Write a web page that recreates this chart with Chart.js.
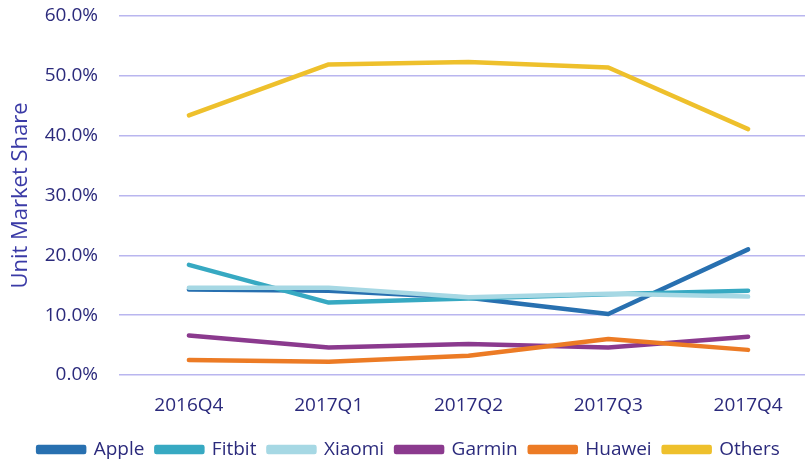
<!DOCTYPE html>
<html>
<head>
<meta charset="utf-8">
<script src="https://cdn.jsdelivr.net/npm/chart.js@4"></script>
<style>
  html, body { margin: 0; padding: 0; background: #fff; overflow: hidden; }
  #wrap { position: absolute; left: 0; top: 0; width: 818px; height: 469px; }
</style>
</head>
<body>
<div id="wrap"><canvas id="shareChart"></canvas></div>
<script>
const quarters = ['2016Q4', '2017Q1', '2017Q2', '2017Q3', '2017Q4'];

const apple  = [14.3, 14.1, 12.9, 10.2, 21.0];
const fitbit = [18.4, 12.1, 12.8, 13.5, 14.1];
const xiaomi = [14.6, 14.6, 13.0, 13.6, 13.1];
const garmin = [6.6, 4.6, 5.2, 4.6, 6.4];
const huawei = [2.5, 2.2, 3.2, 6.0, 4.2];
const others = [43.4, 51.9, 52.3, 51.4, 41.1];

const yTicks = [0, 10, 20, 30, 40, 50, 60];

const textColor = '#2b2a7c';
const gridColor = '#b9b6ef';

// later series are painted on top, like in the original
function line(label, data, color, order) {
  return {
    label: label,
    data: data,
    order: order,
    borderColor: color,
    backgroundColor: color,
    borderWidth: 4.5,
    borderCapStyle: 'round',
    borderJoinStyle: 'round',
    pointRadius: 0,
    tension: 0,
    fill: false
  };
}

const ctx = document.getElementById('shareChart').getContext('2d');
new Chart(ctx, {
  type: 'line',
  data: {
    labels: quarters,
    datasets: [
      line('Apple', apple, '#2870b0', 6),
      line('Fitbit', fitbit, '#37a9c2', 5),
      line('Xiaomi', xiaomi, '#a6d8e4', 4),
      line('Garmin', garmin, '#8b3a8e', 3),
      line('Huawei', huawei, '#ec7b25', 2),
      line('Others', others, '#eec02c', 1)
    ]
  },
  options: {
    responsive: true,
    maintainAspectRatio: false,
    animation: false,
    layout: { padding: { top: 16, left: 0, right: 0, bottom: 0 } },
    scales: {
      x: {
        offset: true,
        afterFit: axis => { axis.height = 53; },
        grid: { display: false, drawTicks: false },
        border: { display: false },
        ticks: {
          color: textColor,
          padding: 19,
          font: { family: 'Open Sans', size: 19 }
        }
      },
      y: {
        min: 0,
        max: 60,
        afterBuildTicks: axis => { axis.ticks = yTicks.map(v => ({ value: v })); },
        afterFit: axis => { axis.width = 119; },
        // ticks hidden, only used to push the labels away from the plot
        grid: { color: gridColor, lineWidth: 1.5, drawTicks: true, tickLength: 18, tickColor: 'rgba(0,0,0,0)' },
        border: { display: false },
        ticks: {
          color: textColor,
          padding: 3,
          font: { family: 'Open Sans', size: 19 },
          callback: v => v.toFixed(1) + '%'
        },
        title: {
          display: true,
          text: 'Unit Market Share',
          color: '#3a3aa6',
          padding: { top: 8, bottom: 0 },
          font: { family: 'Open Sans', size: 22 }
        }
      }
    },
    plugins: {
      legend: {
        position: 'bottom',
        labels: {
          color: textColor,
          boxWidth: 46,
          boxHeight: 5,
          padding: 12,
          font: { family: 'Open Sans', size: 19 },
          sort: (a, b) => a.datasetIndex - b.datasetIndex
        }
      },
      tooltip: { enabled: false }
    }
  }
});
</script>
</body>
</html>
